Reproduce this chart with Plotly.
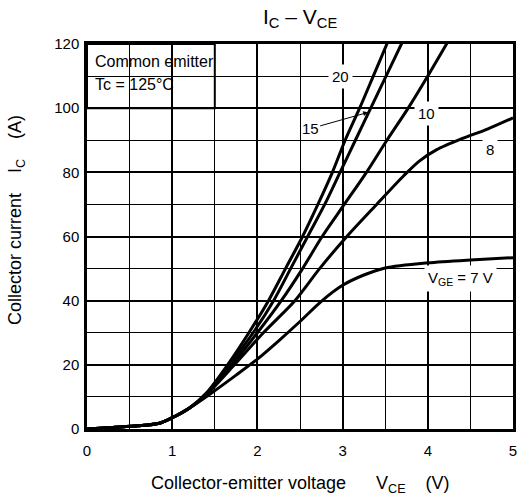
import plotly.graph_objects as go

# ---- data ----
vce_20 = [0, 0.3, 0.6, 0.85, 1.0, 1.2, 1.4, 1.65, 1.9, 2.13, 2.33, 2.53, 2.71, 2.88, 3.03, 3.2, 3.36, 3.52, 3.6]
ic_20 = [0, 0.5, 1.0, 1.8, 3.5, 6.5, 11.2, 20, 30, 40, 50, 60, 70, 80, 90, 100, 110, 120, 125]

vce_15 = [0, 0.3, 0.6, 0.85, 1.0, 1.2, 1.4, 1.67, 1.95, 2.19, 2.39, 2.59, 2.79, 2.97, 3.15, 3.33, 3.51, 3.69, 3.78]
ic_15 = [0, 0.5, 1.0, 1.8, 3.5, 6.5, 11.0, 20, 30, 40, 50, 60, 70, 80, 90, 100, 110, 120, 125]

vce_10 = [0, 0.3, 0.6, 0.85, 1.0, 1.2, 1.4, 1.7, 2.0, 2.28, 2.53, 2.76, 3.02, 3.28, 3.52, 3.77, 4.0, 4.22, 4.33]
ic_10 = [0, 0.5, 1.0, 1.8, 3.5, 6.5, 10.8, 20, 30, 40, 50, 60, 70, 80, 90, 100, 110, 120, 125]

vce_8 = [0, 0.3, 0.6, 0.85, 1.0, 1.2, 1.4, 1.73, 2.07, 2.44, 2.73, 3.05, 3.4, 3.72, 3.9, 4.1, 4.4, 4.7, 5.0]
ic_8 = [0, 0.5, 1.0, 1.8, 3.5, 6.5, 10.6, 20, 30, 40, 50, 60, 70, 79, 83.5, 87, 90.5, 93.5, 97]

vce_7 = [0, 0.3, 0.6, 0.85, 1.0, 1.2, 1.45, 1.75, 2.0, 2.25, 2.5, 2.75, 3.0, 3.25, 3.5, 4.0, 4.5, 5.0]
ic_7 = [0, 0.5, 1.0, 1.8, 3.5, 6.5, 11.0, 16.8, 21.8, 27.5, 33.5, 39.8, 44.8, 48, 50.2, 51.8, 52.7, 53.4]

x_ticks = [0, 1, 2, 3, 4, 5]
y_ticks = [0, 20, 40, 60, 80, 100, 120]

FONT = "Liberation Sans, Arial, sans-serif"

fig = go.Figure()
for vx, iy in [(vce_20, ic_20), (vce_15, ic_15), (vce_10, ic_10), (vce_8, ic_8), (vce_7, ic_7)]:
    fig.add_trace(go.Scatter(x=vx, y=iy, mode="lines",
                             line=dict(color="black", width=3, shape="spline", smoothing=0.8),
                             showlegend=False, hoverinfo="skip"))

fig.update_layout(
    width=518, height=502,
    margin=dict(l=87, r=5, t=44, b=73),
    paper_bgcolor="white", plot_bgcolor="white",
    font=dict(family=FONT, color="black", size=15),
    showlegend=False,
)

fig.update_xaxes(
    range=[0, 5], tickvals=x_ticks, ticktext=[str(v) for v in x_ticks],
    showgrid=True, gridcolor="black", gridwidth=1.5,
    minor=dict(dtick=0.5, tick0=0, showgrid=True, gridcolor="black", gridwidth=1),
    showline=True, linecolor="black", linewidth=2.5, mirror=True,
    zeroline=False, ticks="", ticklabelstandoff=6, automargin=False,
    tickfont=dict(size=15, family=FONT, color="black"),
)
fig.update_yaxes(
    range=[0, 120], tickvals=y_ticks, ticktext=[str(v) for v in y_ticks],
    showgrid=True, gridcolor="black", gridwidth=1.5,
    minor=dict(dtick=10, tick0=0, showgrid=True, gridcolor="black", gridwidth=1),
    showline=True, linecolor="black", linewidth=2.5, mirror=True,
    zeroline=False, ticks="", ticklabelstandoff=2, automargin=False,
    tickfont=dict(size=15, family=FONT, color="black"),
)

# condition box
fig.add_shape(type="rect", xref="x", yref="y", x0=0, x1=1.5, y0=100, y1=120,
              fillcolor="white", line=dict(color="black", width=2), layer="below")

ann = []
ann.append(dict(text="Common emitter", x=0.07, y=114.7, xref="x", yref="y",
                xanchor="left", yanchor="middle", showarrow=False, font=dict(size=16)))
ann.append(dict(text="Tc = 125°C", x=0.07, y=107.5, xref="x", yref="y",
                xanchor="left", yanchor="middle", showarrow=False, font=dict(size=16)))

for txt, xv, yv in [("20", 2.97, 110), ("10", 3.98, 98.3), ("8", 4.73, 87),
                    ("V<sub>GE</sub> = 7 V", 4.38, 47)]:
    ann.append(dict(text=txt, x=xv, y=yv, xref="x", yref="y", showarrow=False,
                    bgcolor="white", borderpad=3, font=dict(size=15)))

ann.append(dict(text="15", x=3.30, y=98.7, ax=2.62, ay=93.6, xref="x", yref="y",
                axref="x", ayref="y", showarrow=True, arrowhead=2, arrowsize=1,
                arrowwidth=1, arrowcolor="black", font=dict(size=15)))

# title
ann.append(dict(text="I<sub>C</sub> – V<sub>CE</sub>", x=0.5, y=1.0, xref="paper", yref="paper",
                yshift=26, xanchor="center", yanchor="middle", showarrow=False,
                font=dict(size=21)))
# axis titles
nb = "\u00a0"
ann.append(dict(text="Collector-emitter voltage" + nb * 6 + "V<sub>CE</sub>" + nb * 4 + "(V)",
                x=0.5, y=-0.145, xref="paper", yref="paper", xanchor="center", yanchor="middle",
                showarrow=False, font=dict(size=18)))
ann.append(dict(text="Collector current" + nb * 4 + "I<sub>C</sub>" + nb * 4 + "(A)",
                x=-0.164, y=0.543, xref="paper", yref="paper", xanchor="center", yanchor="middle",
                textangle=-90, showarrow=False, font=dict(size=18)))

fig.update_layout(annotations=ann)
fig.write_html("out.html", config={"displayModeBar": False},
               post_script="document.body.style.margin='0px';document.body.style.overflow='hidden';")
